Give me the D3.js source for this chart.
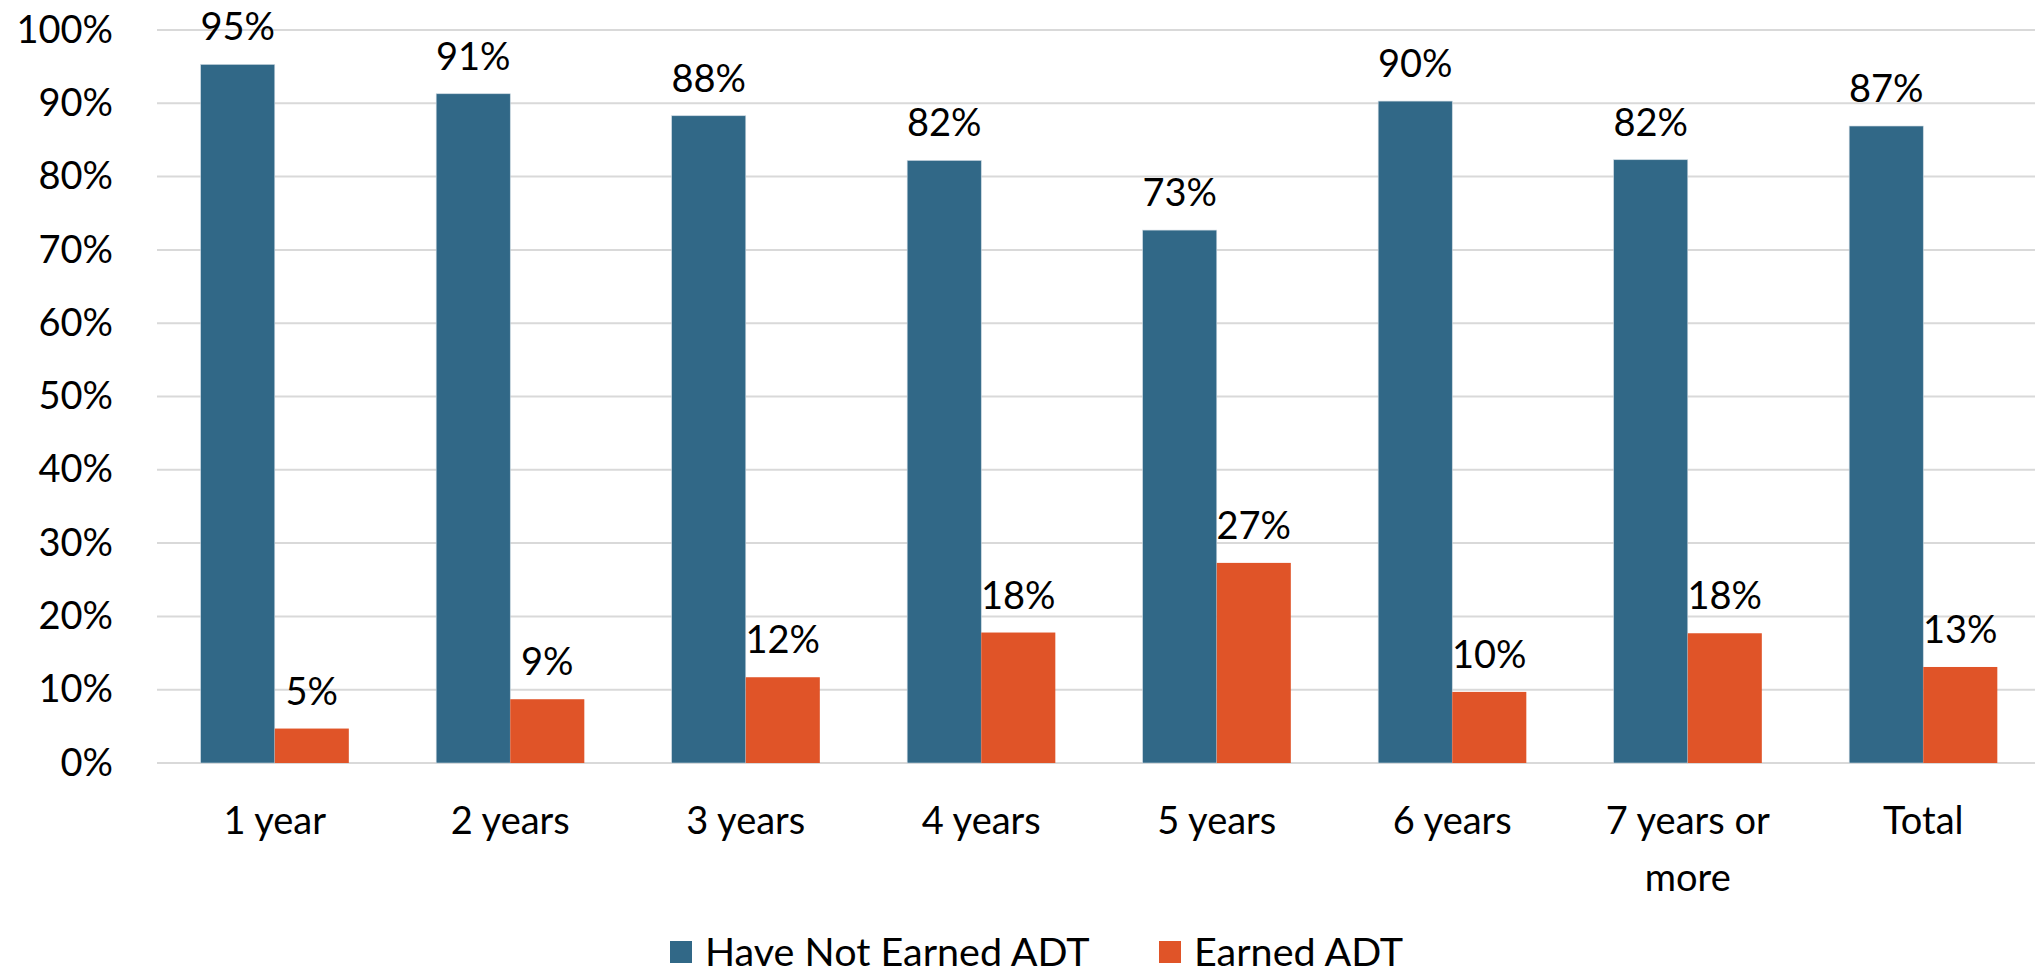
<!DOCTYPE html>
<html>
<head>
<meta charset="utf-8">
<script src="https://cdn.jsdelivr.net/npm/d3@7"></script>
<style>
  html, body { margin: 0; padding: 0; background: #fff; }
  svg text { font-family: Lato, "Open Sans", sans-serif; fill: #000; }
</style>
</head>
<body>
<svg id="chart" width="2035" height="974"></svg>
<script>
// chart data
var categories = ["1 year", "2 years", "3 years", "4 years", "5 years", "6 years", "7 years or more", "Total"];
var seriesNames = ["Have Not Earned ADT", "Earned ADT"];
var notEarned = [95.3, 91.3, 88.3, 82.2, 72.7, 90.3, 82.3, 86.9];
var earned = [4.7, 8.7, 11.7, 17.8, 27.3, 9.7, 17.7, 13.1];
var yTicks = [0, 10, 20, 30, 40, 50, 60, 70, 80, 90, 100];
var colors = ["#316887", "#E05428"];

var svg = d3.select("#chart");
var margin = { left: 157, right: -6, top: 30, bottom: 211 };
var width = 2035 - margin.left - margin.right;
var height = 974 - margin.top - margin.bottom;
var fontSize = 38;

var g = svg.append("g").attr("transform", "translate(" + margin.left + "," + margin.top + ")");

var x0 = d3.scaleBand().domain(categories).range([0, width]).paddingInner(0.371).paddingOuter(0.1855);
var x1 = d3.scaleBand().domain(seriesNames).range([0, x0.bandwidth()]);
var y = d3.scaleLinear().domain([0, 100]).range([height, 0]);

// gridlines
g.append("g").selectAll("line")
    .data(yTicks)
    .enter().append("line")
    .attr("x1", 0).attr("x2", width)
    .attr("y1", function (d) { return y(d); })
    .attr("y2", function (d) { return y(d); })
    .attr("stroke", "#d9d9d9")
    .attr("stroke-width", 2);

// y axis labels
var yAxis = g.append("g").call(d3.axisLeft(y).tickValues(yTicks).tickSize(0).tickPadding(44)
    .tickFormat(function (d) { return d + "%"; }));
yAxis.select(".domain").remove();
yAxis.selectAll("text").style("font-size", fontSize + "px").attr("fill", "#000");

var rows = categories.map(function (c, i) {
    return { cat: c, values: [notEarned[i], earned[i]] };
});

var groups = g.selectAll(".grp")
    .data(rows)
    .enter().append("g")
    .attr("class", "grp")
    .attr("transform", function (d) { return "translate(" + x0(d.cat) + ",0)"; });

groups.selectAll("rect")
    .data(function (d) { return d.values.map(function (v, k) { return { k: k, v: v }; }); })
    .enter().append("rect")
    .attr("x", function (d) { return x1(seriesNames[d.k]); })
    .attr("width", x1.bandwidth())
    .attr("y", function (d) { return y(d.v); })
    .attr("height", function (d) { return y(0) - y(d.v); })
    .attr("fill", function (d) { return colors[d.k]; })
    .attr("stroke", function (d) { return d.k === 0 ? "#c9d6df" : "none"; })
    .attr("stroke-width", 0.6);

groups.selectAll("text.val")
    .data(function (d) { return d.values.map(function (v, k) { return { k: k, v: v }; }); })
    .enter().append("text")
    .attr("class", "val")
    .attr("x", function (d) { return x1(seriesNames[d.k]) + x1.bandwidth() / 2; })
    .attr("y", function (d) { return y(d.v) - 24; })
    .attr("text-anchor", "middle")
    .style("font-size", fontSize + "px")
    .text(function (d) { return Math.round(d.v) + "%"; });

// x axis labels (wrap long ones)
var xLabelLines = { "7 years or more": ["7 years or", "more"] };
var xl = g.append("g").selectAll("text")
    .data(categories)
    .enter().append("text")
    .attr("x", function (d) { return x0(d) + x0.bandwidth() / 2; })
    .attr("y", height + 71)
    .attr("text-anchor", "middle")
    .style("font-size", fontSize + "px");
xl.each(function (d) {
    var lines = xLabelLines[d] || [d];
    var t = d3.select(this);
    lines.forEach(function (ln, i) {
        t.append("tspan")
            .attr("x", x0(d) + x0.bandwidth() / 2)
            .attr("dy", i === 0 ? 0 : 57)
            .text(ln);
    });
});

// legend
var legendX = [670, 1159];
var legend = svg.append("g").selectAll("g")
    .data(seriesNames)
    .enter().append("g")
    .attr("transform", function (d, i) { return "translate(" + legendX[i] + ",941)"; });
legend.append("rect")
    .attr("width", 22).attr("height", 22)
    .attr("fill", function (d, i) { return colors[i]; });
legend.append("text")
    .attr("x", 35).attr("y", 11).attr("dy", "0.35em")
    .style("font-size", "39.5px")
    .text(function (d) { return d; });
</script>
</body>
</html>
